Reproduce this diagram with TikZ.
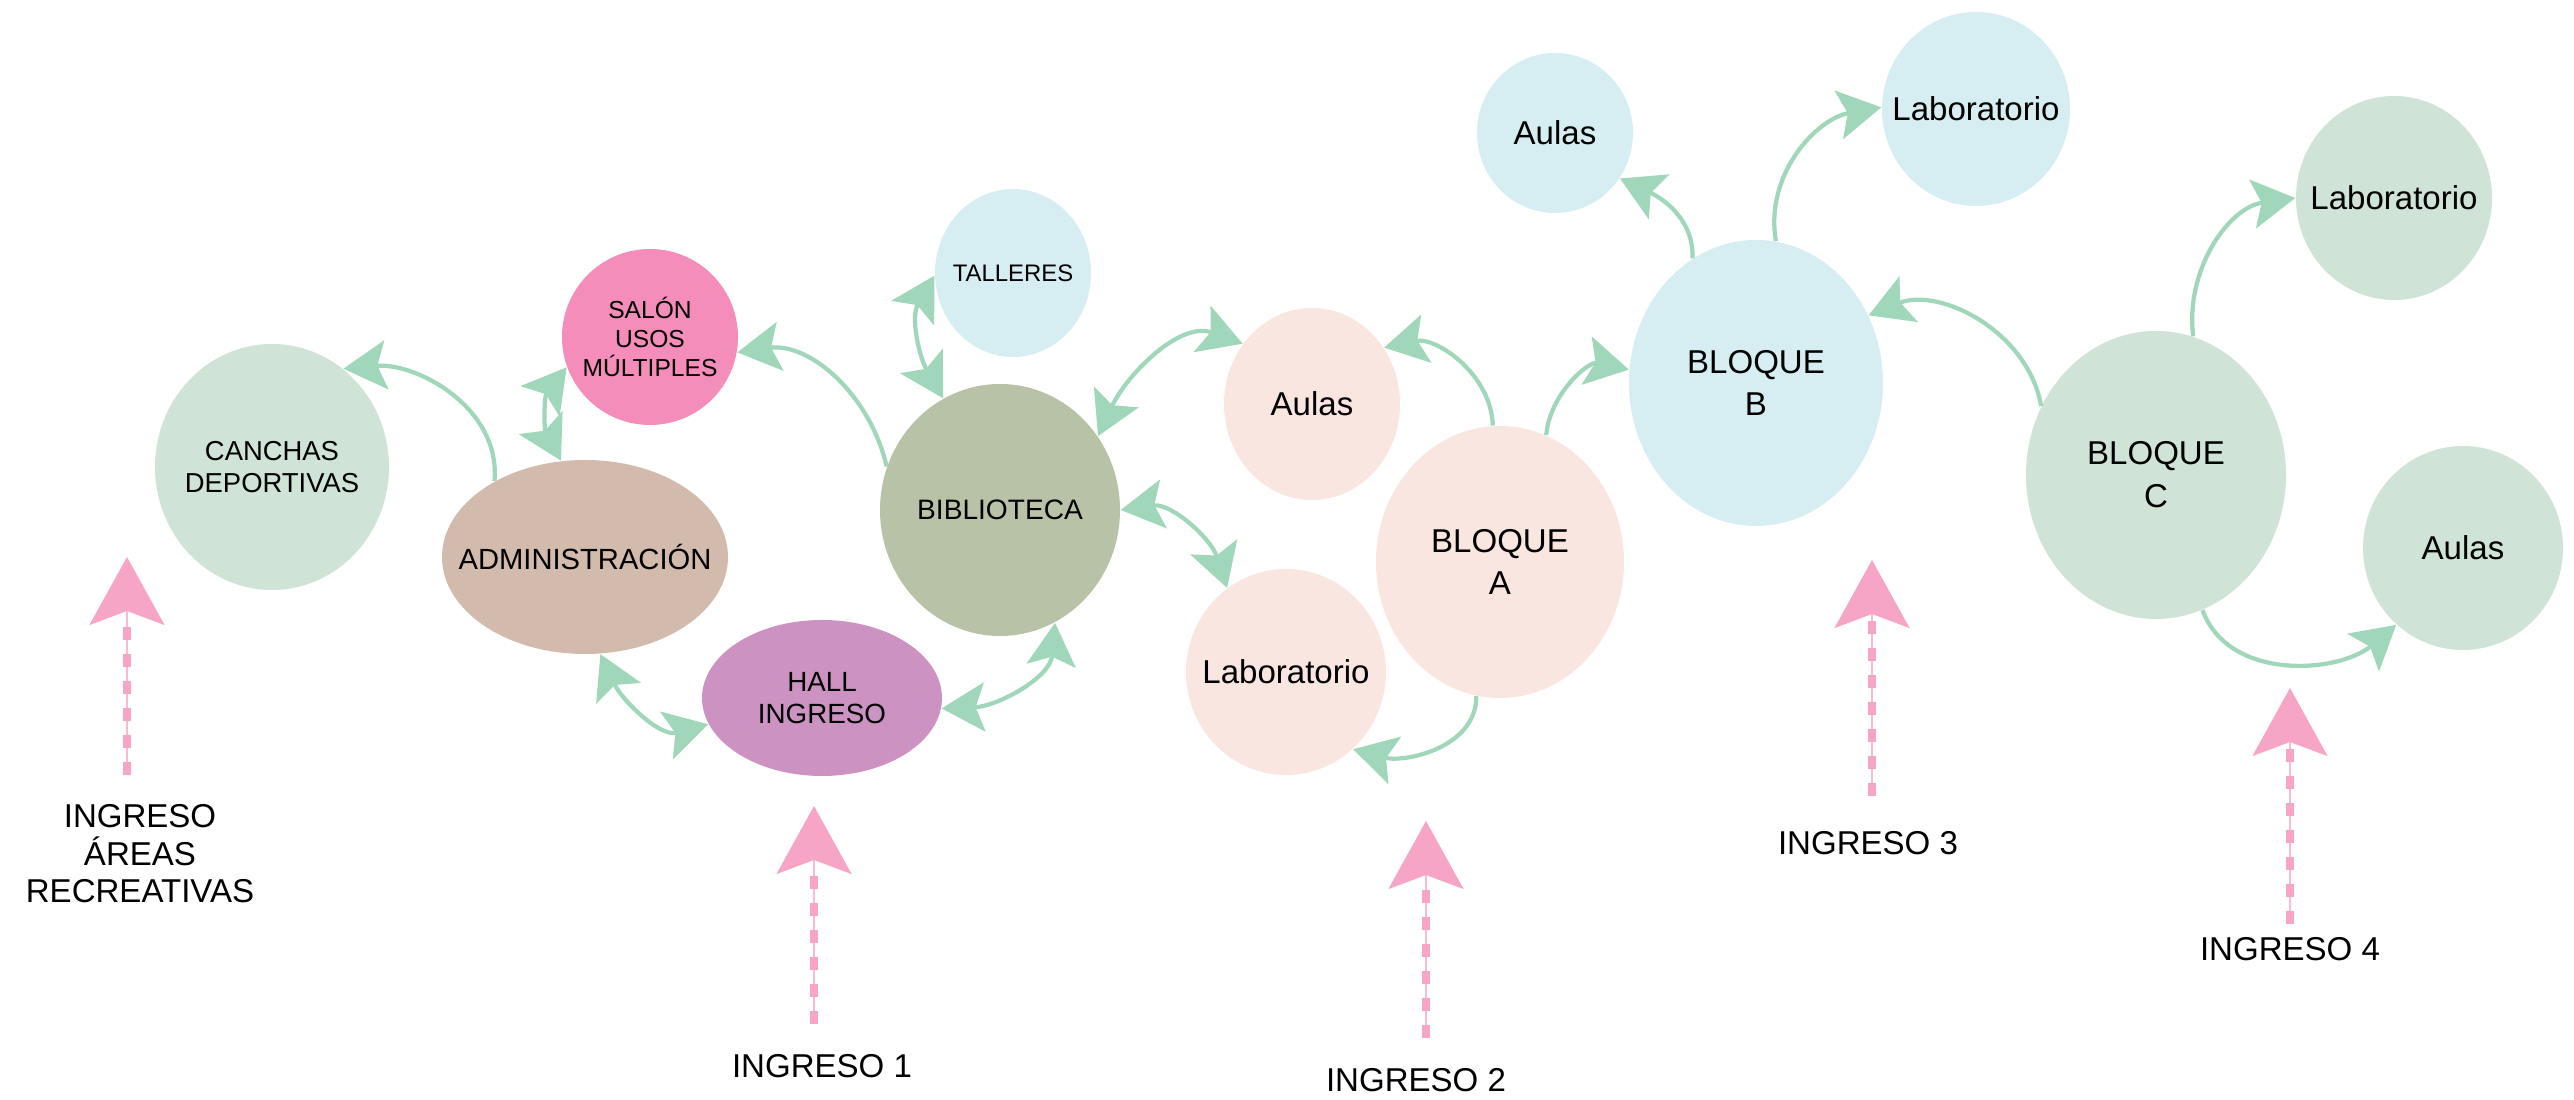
\documentclass[tikz,border=0pt]{standalone}
\usepackage{fontspec}
\setmainfont{Liberation Sans}
\usetikzlibrary{positioning,arrows.meta,shapes.geometric}
\definecolor{sage}{HTML}{CFE3D6}
\definecolor{rosex}{HTML}{F48DB9}
\definecolor{taupe}{HTML}{D2BBAD}
\definecolor{orchidx}{HTML}{CC92C1}
\definecolor{moss}{HTML}{B8C2A6}
\definecolor{mist}{HTML}{D6EDF1}
\definecolor{blush}{HTML}{F9E6E1}
\definecolor{mint}{HTML}{A0D6B9}
\definecolor{candy}{HTML}{F7A5C6}

\begin{document}
\begin{tikzpicture}[
  room/.style={ellipse, inner xsep=-3mm, inner ysep=0pt, align=center, font=\fontsize{7.8}{9.3}\selectfont},
  block/.style={room, font=\fontsize{9.4}{12.2}\selectfont},
  link/.style={-{Stealth[length=4.3mm, width=4.9mm, inset=0.9mm]}, line width=1.2pt, draw=mint},
  twoway/.style={link, {Stealth[length=4.3mm, width=4.9mm, inset=0.9mm]}-{Stealth[length=4.3mm, width=4.9mm, inset=0.9mm]}},
  gate/.style={draw=candy!75, line width=0.6pt, -{Stealth[length=6.8mm, width=7.5mm, inset=1.4mm, color=candy, fill=candy]},
    postaction={draw=candy, -, line width=2.4pt, dash pattern=on 1.3mm off 1.4mm, shorten >=6mm}},
  gatelbl/.style={inner sep=0pt, align=center, font=\fontsize{9.4}{10.7}\selectfont}]
  \useasboundingbox (0,0) rectangle (25.74,11);

  \node[room, fill=sage, minimum width=2.34cm, minimum height=2.46cm] (canchas) at (2.72,6.33) {CANCHAS\\DEPORTIVAS};
  \node[room, fill=rosex, minimum width=1.76cm, minimum height=1.76cm, font=\fontsize{7}{8.2}\selectfont] (salon) at (6.50,7.63) {SALÓN\\USOS\\MÚLTIPLES};
  \node[room, fill=taupe, minimum width=2.86cm, minimum height=1.94cm, font=\fontsize{8.3}{10}\selectfont] (admin) at (5.85,5.43) {ADMINISTRACIÓN};
  \node[room, fill=orchidx, minimum width=2.40cm, minimum height=1.56cm, font=\fontsize{7.9}{9.1}\selectfont] (hall) at (8.22,4.02) {HALL\\INGRESO};
  \node[room, fill=mist, minimum width=1.56cm, minimum height=1.68cm, font=\fontsize{6.8}{8}\selectfont] (talleres) at (10.13,8.27) {TALLERES};
  \node[room, fill=moss, minimum width=2.40cm, minimum height=2.52cm, font=\fontsize{8}{9.6}\selectfont] (biblio) at (10.00,5.90) {BIBLIOTECA};
  \node[block, fill=blush, minimum width=1.76cm, minimum height=1.92cm] (aulasA) at (13.12,6.96) {Aulas};
  \node[block, fill=blush, minimum width=2.00cm, minimum height=2.06cm] (labA) at (12.86,4.28) {Laboratorio};
  \node[block, fill=blush, minimum width=2.48cm, minimum height=2.72cm] (bloqueA) at (15.00,5.38) {BLOQUE\\A};
  \node[block, fill=mist, minimum width=2.54cm, minimum height=2.86cm] (bloqueB) at (17.56,7.17) {BLOQUE\\B};
  \node[block, fill=mist, minimum width=1.56cm, minimum height=1.60cm] (aulasB) at (15.55,9.67) {Aulas};
  \node[block, fill=mist, minimum width=1.88cm, minimum height=1.94cm] (labB) at (19.76,9.91) {Laboratorio};
  \node[block, fill=sage, minimum width=2.60cm, minimum height=2.88cm] (bloqueC) at (21.56,6.25) {BLOQUE\\C};
  \node[block, fill=sage, minimum width=1.96cm, minimum height=2.04cm] (labC) at (23.94,9.02) {Laboratorio};
  \node[block, fill=sage, minimum width=2.00cm, minimum height=2.04cm] (aulasC) at (24.63,5.52) {Aulas};

  \draw[link] (admin.140) to[out=85, in=5] (canchas.54);
  \draw[twoway] (admin.104) to[out=118, in=232] (salon.200);
  \draw[link] (biblio.159) to[out=103, in=8] (salon.350);
  \draw[twoway] (biblio.117) to[out=120, in=240] (talleres.182);
  \draw[twoway] (biblio.296) to[out=265, in=2] (hall.355);
  \draw[twoway] (admin.279) to[out=295, in=195] (hall.193);
  \draw[twoway] (biblio.37) to[out=65, in=160] (aulasA.139);
  \draw[twoway] (biblio.0) to[out=8, in=108] (labA.125);
  \draw[link] (bloqueA.93) to[out=92, in=12] (aulasA.38);
  \draw[link] (bloqueA.260) to[out=270, in=-15] (labA.311);
  \draw[link] (bloqueA.70) to[out=85, in=168] (bloqueB.174);
  \draw[link] (bloqueB.117) to[out=88, in=-25] (aulasB.325);
  \draw[link] (bloqueB.82) to[out=100, in=190] (labB.179);
  \draw[link] (bloqueC.149) to[out=100, in=22] (bloqueB.31);
  \draw[link] (bloqueC.75) to[out=97, in=188] (labC.180);
  \draw[link] (bloqueC.289) to[out=290, in=220] (aulasC.229);

  \coordinate (e0tip) at (1.27,5.43);
  \coordinate (e0foot) at (1.27,3.25);
  \coordinate (e1tip) at (8.14,2.94);
  \coordinate (e1foot) at (8.14,0.76);
  \coordinate (e2tip) at (14.26,2.79);
  \coordinate (e2foot) at (14.26,0.62);
  \coordinate (e3tip) at (18.72,5.40);
  \coordinate (e3foot) at (18.72,3.04);
  \coordinate (e4tip) at (22.90,4.12);
  \coordinate (e4foot) at (22.90,1.76);
  \node[gatelbl, below=2.9mm of e0foot, xshift=1.3mm] (e0) {INGRESO\\ÁREAS\\RECREATIVAS};
  \node[gatelbl, below=3mm of e1foot, xshift=0.8mm] (e1) {INGRESO 1};
  \node[gatelbl, below=3mm of e2foot, xshift=-1mm] (e2) {INGRESO 2};
  \node[gatelbl, below=3.5mm of e3foot, xshift=-0.4mm] (e3) {INGRESO 3};
  \node[gatelbl, below=1.3mm of e4foot] (e4) {INGRESO 4};
  \draw[gate] (e0foot) -- (e0tip);
  \draw[gate] (e1foot) -- (e1tip);
  \draw[gate] (e2foot) -- (e2tip);
  \draw[gate] (e3foot) -- (e3tip);
  \draw[gate] (e4foot) -- (e4tip);
\end{tikzpicture}
\end{document}
